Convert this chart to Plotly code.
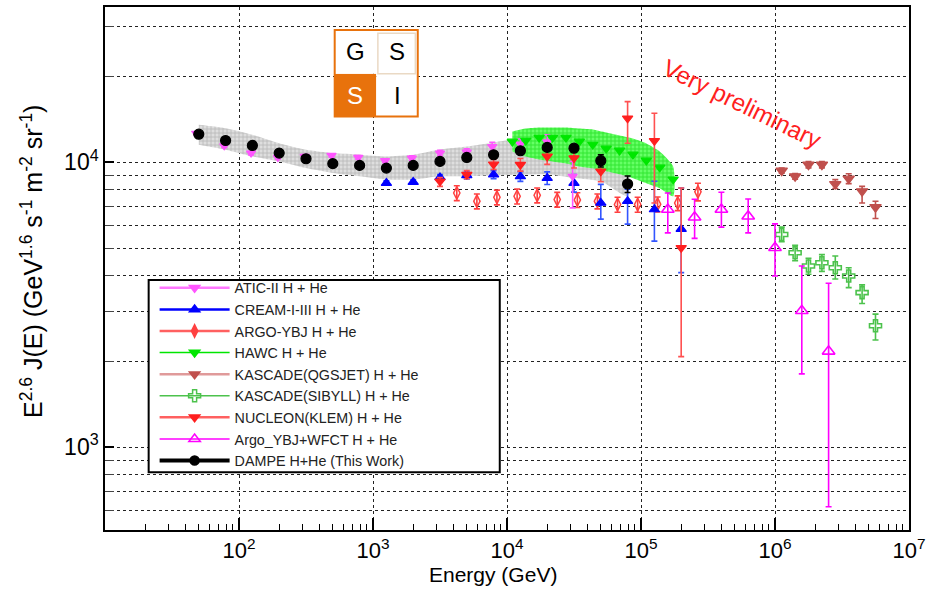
import plotly.graph_objects as go

# ---------------- data ----------------
dampe_E = [50.1, 79.4, 125.9, 199.5, 316.2, 501.2, 794.3, 1259, 1995, 3162, 5012, 7943,
           12590, 19950, 31620, 50120, 79430]
dampe_F = [12560, 11940, 11470, 10780, 10300, 9900, 9760, 9550, 9760, 10080, 10410, 10640,
           10990, 11290, 11220, 10140, 8396]
dampe_err = [50, 50, 50, 50, 50, 50, 60, 60, 70, 80, 100, 120, 150, 200, 300, 500, 560]
dampe_sys_hi = [13550, 13180, 12500, 11680, 11080, 10780, 10640, 10495, 10640, 11100, 11370,
                11750, 12160, 12500, 12530, 11370, 10080]
dampe_sys_lo = [11530, 11080, 10495, 10080, 9550, 9173, 8935, 8700, 8700, 8935, 8935, 9005,
                9050, 9080, 8810, 8580, 7600]

atic_E = [47.9, 77.6, 123, 195, 309, 490, 776, 1230, 1950, 3160, 5010, 7760, 12600, 20000, 30900]
atic_F = [12660, 11440, 10780, 10410, 10495, 10580, 10410, 10140, 10350, 10780, 10860, 11370,
          11590, 11800, 8935]
atic_err_hi = [150, 150, 150, 150, 150, 150, 150, 150, 200, 250, 300, 400, 500, 700, 1145]
atic_err_lo = [150, 150, 150, 150, 150, 150, 150, 150, 200, 250, 300, 400, 500, 700, 2015]

cream_E = [1259, 1995, 3162, 5012, 7943, 12590, 19950, 31620, 50120, 79430, 125900, 199500]
cream_F = [8460, 8530, 8860, 9005, 9057, 8930, 8810, 8460, 7203, 7305, 6831, 5830]
cream_err_hi = [150, 150, 200, 250, 300, 350, 450, 600, 1170, 740, 1750, 2300]
cream_err_lo = [150, 150, 200, 250, 300, 350, 450, 600, 885, 1235, 1540, 1730]

argo_E = [4220, 5960, 8410, 11900, 16800, 23700, 33500, 47300, 66800, 94400, 133000, 188000, 266000]
argo_F = [7808, 7305, 7543, 7603, 7665, 7406, 7380, 7305, 7112, 7112, 7130, 7200, 7883]
argo_err = [470, 440, 450, 460, 460, 440, 440, 440, 430, 430, 430, 430, 560]

hawc_E = [10960, 13800, 17380, 21880, 27540, 34670, 43650, 54950, 69180, 87100, 109600, 138000, 173800]
hawc_F = [11845, 11940, 12230, 12230, 12230, 11845, 11560, 11195, 11015, 10665, 10160, 9605, 8720]
hawc_sys_hi = [12840, 13150, 13260, 13260, 13260, 13150, 13050, 12735, 12430, 12130, 11660, 10930, 9683]
hawc_sys_lo = [10930, 10495, 10245, 10080, 9920, 9683, 9528, 9300, 9078, 8790, 8445, 8110, 7603]

kascade_E = [1122000, 1413000, 1778000, 2239000, 2818000, 3548000, 4467000, 5623000]
kq_F = [9354, 8935, 9816, 9816, 8396, 8769, 7918, 6961]
kq_err_hi = [200, 200, 250, 250, 300, 350, 320, 345]
kq_err_lo = [200, 200, 250, 250, 300, 350, 715, 610]
ks_F = [5580, 4814, 4325, 4442, 4266, 3990, 3487, 2667]
ks_err_hi = [343, 300, 280, 300, 424, 276, 224, 264]
ks_err_lo = [320, 300, 280, 300, 371, 359, 295, 290]

nuc_E = [3162, 5012, 7943, 12590, 19950, 31620, 50120, 79430, 125900, 199500]
nuc_F = [8580, 9057, 9840, 9817, 10495, 10352, 9300, 14290, 11910, 5012]
nuc_err_hi = [270, 300, 400, 500, 650, 800, 750, 2060, 2970, 3118]
nuc_err_lo = [340, 300, 400, 500, 650, 800, 750, 2610, 4710, 2934]

wfct_E = [158500, 251200, 398100, 631000, 1000000, 1585000, 2512000]
wfct_F = [6831, 6419, 6831, 6471, 5012, 3010, 2168]
wfct_err_hi = [977, 1001, 1019, 966, 1069, 1315, 1595]
wfct_err_lo = [1176, 1009, 908, 816, 1022, 1203, 1551]

legend_names = ["ATIC-II H + He", "CREAM-I-III H + He", "ARGO-YBJ H + He", "HAWC H + He",
                "KASCADE(QGSJET) H + He", "KASCADE(SIBYLL) H + He", "NUCLEON(KLEM) H + He",
                "Argo_YBJ+WFCT H + He", "DAMPE H+He (This Work)"]

x_major = [100, 1000, 10000, 100000, 1000000, 10000000]
x_major_text = ["10<sup>2</sup>", "10<sup>3</sup>", "10<sup>4</sup>", "10<sup>5</sup>",
                "10<sup>6</sup>", "10<sup>7</sup>"]
y_major = [1000, 10000]
y_major_text = ["10<sup>3</sup>", "10<sup>4</sup>"]

# ---------------- styles ----------------
C_ATIC = "#ff55ff"
C_CREAM = "#0000ff"
C_ARGO = "#ff4040"
C_HAWC = "#00e600"
C_KQ = "#c0504d"
C_KS = "#4cc24c"
C_NUC = "#ff1f1f"
C_WFCT = "#ff00ff"
SANS = "Liberation Sans, Arial, sans-serif"
NARROW = "Liberation Sans Narrow, Arial Narrow, Liberation Sans, Arial, sans-serif"

fig = go.Figure()


def band(E, hi, lo, fillcolor, pattern):
    fig.add_trace(go.Scatter(
        x=list(E) + list(E)[::-1], y=list(hi) + list(lo)[::-1],
        mode="lines", line=dict(width=0, shape="spline", smoothing=0.6), fill="toself",
        fillcolor=fillcolor, fillpattern=pattern, hoverinfo="skip", showlegend=False))


band(dampe_E, dampe_sys_hi, dampe_sys_lo, "rgba(205,205,205,1)",
     dict(shape="+", fgcolor="#8f8f8f", bgcolor="#dedede", size=4, solidity=0.35))
band(hawc_E, hawc_sys_hi, hawc_sys_lo, "rgba(40,255,40,1)",
     dict(shape="+", fgcolor="#00d000", bgcolor="#66ff66", size=4, solidity=0.45))


def pts(E, F, hi, lo, color, symbol, size, lw=1.2, ecolor=None, cap=3):
    fig.add_trace(go.Scatter(
        x=E, y=F, mode="markers",
        marker=dict(color=color, symbol=symbol, size=size, line=dict(color=color, width=lw)),
        error_y=dict(type="data", symmetric=False, array=hi, arrayminus=lo,
                     color=ecolor or color, thickness=1.6, width=cap),
        showlegend=False))


pts(argo_E, argo_F, argo_err, argo_err, C_ARGO, "diamond-tall-open", 9, lw=1.5)
pts(cream_E, cream_F, cream_err_hi, cream_err_lo, C_CREAM, "triangle-up", 9, ecolor="#3355ff")
pts(atic_E, atic_F, atic_err_hi, atic_err_lo, C_ATIC, "triangle-down", 8)
pts(hawc_E, hawc_F, [0] * len(hawc_F), [0] * len(hawc_F), C_HAWC, "triangle-down", 9, cap=0)
pts(kascade_E, kq_F, kq_err_hi, kq_err_lo, C_KQ, "triangle-down", 10)
pts(kascade_E, ks_F, ks_err_hi, ks_err_lo, C_KS, "cross-open", 10, lw=1.6)
pts(nuc_E, nuc_F, nuc_err_hi, nuc_err_lo, C_NUC, "triangle-down", 9, ecolor="#ff5050")
pts(wfct_E, wfct_F, wfct_err_hi, wfct_err_lo, C_WFCT, "triangle-up-open", 11, lw=1.6)
pts(dampe_E, dampe_F, dampe_err, dampe_err, "black", "circle", 10, ecolor="black")

# legend-only entries (line + marker, as in the reference legend)
leg_styles = [
    ("#ff77ff", 2.5, C_ATIC, "triangle-down", 9),
    ("#0000ff", 2.5, C_CREAM, "triangle-up", 9),
    ("#ff6060", 2.5, C_ARGO, "diamond-tall", 9),
    ("#00e600", 1.5, C_HAWC, "triangle-down", 9),
    ("#e09a9a", 2.5, C_KQ, "triangle-down", 9),
    ("#4cc24c", 1.5, C_KS, "cross-open", 10),
    ("#ff6060", 2.5, C_NUC, "triangle-down", 9),
    ("#ff00ff", 1.5, C_WFCT, "triangle-up-open", 10),
    ("black", 4, "black", "circle", 9),
]
for name, (lc, lw, mc, sym, sz) in zip(legend_names, leg_styles):
    fig.add_trace(go.Scatter(
        x=[None], y=[None], mode="lines+markers", name=name,
        line=dict(color=lc, width=lw),
        marker=dict(color=mc, symbol=sym, size=sz, line=dict(color=mc, width=1.5))))

fig.update_layout(
    width=931, height=595,
    margin=dict(l=105, r=22, t=5, b=65),
    paper_bgcolor="white", plot_bgcolor="white",
    showlegend=True,
    legend=dict(x=0.0617, y=0.4933, xanchor="left", yanchor="top",
                bgcolor="rgba(0,0,0,0)", borderwidth=0, itemwidth=70,
                font=dict(family=SANS, size=14.3, color="#222"),
                tracegroupgap=0),
    xaxis=dict(type="log", range=[1, 7], showline=True, linecolor="black", linewidth=1.5,
               mirror=True, ticks="inside", ticklen=12, tickcolor="black", tickwidth=1.5,
               tickmode="array", tickvals=x_major, ticktext=x_major_text,
               tickfont=dict(family=NARROW, size=22, color="black"),
               showgrid=True, gridcolor="#222", griddash="dot", gridwidth=1,
               minor=dict(tickmode="array",
                          tickvals=[m * 10 ** e for e in range(1, 7) for m in range(2, 10)],
                          ticks="inside", ticklen=6, tickcolor="black", tickwidth=1.2,
                          showgrid=False),
               zeroline=False),
    yaxis=dict(type="log", range=[2.7084, 4.546], showline=True, linecolor="black", linewidth=1.5,
               mirror=True, ticks="inside", ticklen=9, tickcolor="black", tickwidth=1.5,
               tickmode="array", tickvals=y_major, ticktext=y_major_text,
               tickfont=dict(family=NARROW, size=23, color="black"),
               showgrid=True, gridcolor="#222", griddash="dot", gridwidth=1,
               minor=dict(tickmode="array",
                          tickvals=[m * 10 ** e for e in range(2, 5) for m in range(2, 10)
                                    if 500 < m * 10 ** e < 35000],
                          ticks="inside", ticklen=9, tickcolor="#444", tickwidth=1.2,
                          showgrid=True, gridcolor="#222", griddash="dot", gridwidth=1),
               zeroline=False),
)

# legend frame
fig.add_shape(type="rect", xref="paper", yref="paper", x0=0.0543, x1=0.491, y0=0.1105, y1=0.478,
              line=dict(color="black", width=2), fillcolor="white", layer="above")

# GSSI logo
lx0, lx1, lxm = 0.2857, 0.389, 0.3374
ly0, ly1, lym = 0.7905, 0.956, 0.8724
fig.add_shape(type="rect", xref="paper", yref="paper", x0=lx0, x1=lxm, y0=ly0, y1=lym,
              line=dict(width=0), fillcolor="#e8720c", layer="above")
fig.add_shape(type="rect", xref="paper", yref="paper", x0=lx0, x1=lxm, y0=lym, y1=ly1,
              line=dict(width=0), fillcolor="white", layer="above")
fig.add_shape(type="rect", xref="paper", yref="paper", x0=lxm, x1=lx1, y0=ly0, y1=ly1,
              line=dict(width=0), fillcolor="white", layer="above")
fig.add_shape(type="rect", xref="paper", yref="paper", x0=lxm + 0.002, x1=lx1 - 0.003,
              y0=lym, y1=ly1 - 0.006, line=dict(color="#ead9c4", width=1.5), layer="above")
fig.add_shape(type="rect", xref="paper", yref="paper", x0=lx0, x1=lx1, y0=ly0, y1=ly1,
              line=dict(color="#e8720c", width=2), layer="above")
for tx, ty, t, c in [((lx0 + lxm) / 2, (lym + ly1) / 2, "G", "black"),
                     ((lxm + lx1) / 2, (lym + ly1) / 2, "S", "black"),
                     ((lx0 + lxm) / 2, (ly0 + lym) / 2, "S", "white"),
                     ((lxm + lx1) / 2, (ly0 + lym) / 2, "I", "black")]:
    fig.add_annotation(x=tx, y=ty, xref="paper", yref="paper", text=t, showarrow=False,
                       xanchor="center", yanchor="middle",
                       font=dict(family=SANS, size=24, color=c))

# "Very preliminary"
fig.add_annotation(x=0.792, y=0.815, xref="paper", yref="paper", text="Very preliminary",
                   showarrow=False, textangle=26, xanchor="center", yanchor="middle",
                   font=dict(family=SANS, size=24, color="#ff2020"))

# axis titles
fig.add_annotation(x=0.483, y=-0.0857, xref="paper", yref="paper", text="Energy (GeV)",
                   showarrow=False, xanchor="center", yanchor="middle",
                   font=dict(family=NARROW, size=21, color="black"))
fig.add_annotation(x=-0.091, y=0.514, xref="paper", yref="paper",
                   text="E<sup>2.6</sup> J(E) (GeV<sup>1.6</sup> s<sup>-1</sup> m<sup>-2</sup> sr<sup>-1</sup>)",
                   showarrow=False, textangle=-90, xanchor="center", yanchor="middle",
                   font=dict(family=SANS, size=25, color="black"))

fig.write_html("out.html")
